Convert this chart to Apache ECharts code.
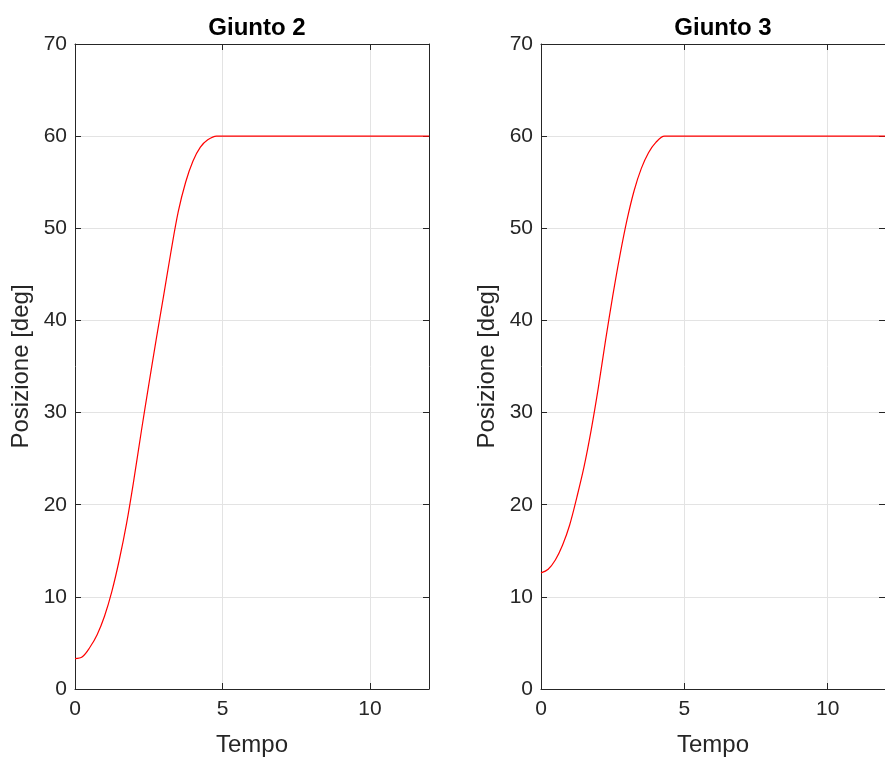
<!DOCTYPE html>
<html>
<head>
<meta charset="utf-8">
<script src="https://cdn.jsdelivr.net/npm/echarts@6/dist/echarts.min.js"></script>
<style>
html, body { margin: 0; padding: 0; background: #fff; }
#chart { width: 885px; height: 763px; }
</style>
</head>
<body>
<div id="chart"></div>
<script>
// tempo [s] e posizione [deg]
const tempo2 = [0, 0.25, 0.5, 0.75, 1.0, 1.25, 1.5, 1.75, 2.0, 2.25, 2.5, 2.75, 3.0, 3.25, 3.5, 3.75, 4.0, 4.25, 4.5, 4.8, 5.2, 12];
const pos2 = [3.3, 3.5, 4.5, 5.9, 7.9, 10.6, 14.0, 18.0, 22.8, 28.0, 33.0, 37.9, 42.6, 47.4, 51.8, 55.0, 57.3, 58.8, 59.6, 60, 60, 60];

const tempo3 = [0, 0.25, 0.5, 0.75, 1.0, 1.25, 1.5, 1.75, 2.0, 2.25, 2.5, 2.75, 3.0, 3.25, 3.5, 3.75, 4.0, 4.31, 4.7, 12];
const pos3 = [12.6, 13.0, 14.0, 15.6, 17.8, 20.8, 24.1, 28.1, 32.7, 37.8, 42.6, 47.0, 50.9, 54.1, 56.5, 58.2, 59.3, 60, 60, 60];

const titoli = ['Giunto 2', 'Giunto 3'];
const xTicks = { min: 0, max: 12, interval: 5 };
const yTicks = { min: 0, max: 70, interval: 10 };

const font = "'Liberation Sans', Arial, Helvetica, sans-serif";
const axisCol = '#262626';
const gridCol = '#e3e3e3';

function toPairs(t, v) {
	return t.map((x, i) => [x, v[i]]);
}

function mainX(idx) {
	return {
		type: 'value', gridIndex: idx, min: xTicks.min, max: xTicks.max, interval: xTicks.interval,
		name: 'Tempo', nameLocation: 'middle', nameGap: 44,
		nameTextStyle: { color: axisCol, fontSize: 24, fontFamily: font },
		axisLine: { show: true, onZero: false, lineStyle: { color: axisCol, width: 1 } },
		axisTick: { show: true, inside: true, length: 6, lineStyle: { color: axisCol } },
		axisLabel: { color: axisCol, fontSize: 21, fontFamily: font, margin: 10, showMaxLabel: false },
		splitLine: { show: true, lineStyle: { color: gridCol, width: 1 } }
	};
}
function topX(idx) {
	return {
		type: 'value', gridIndex: idx, position: 'top', min: xTicks.min, max: xTicks.max, interval: xTicks.interval,
		axisLine: { show: true, onZero: false, lineStyle: { color: axisCol, width: 1 } },
		axisTick: { show: true, inside: true, length: 6, lineStyle: { color: axisCol } },
		axisLabel: { show: false },
		splitLine: { show: false }
	};
}
function mainY(idx) {
	return {
		type: 'value', gridIndex: idx, min: yTicks.min, max: yTicks.max, interval: yTicks.interval,
		name: 'Posizione [deg]', nameLocation: 'middle', nameGap: 42,
		nameTextStyle: { color: axisCol, fontSize: 24, fontFamily: font },
		axisLine: { show: true, onZero: false, lineStyle: { color: axisCol, width: 1 } },
		axisTick: { show: true, inside: true, length: 6, lineStyle: { color: axisCol } },
		axisLabel: { color: axisCol, fontSize: 21, fontFamily: font, margin: 8 },
		splitLine: { show: true, lineStyle: { color: gridCol, width: 1 } }
	};
}
function rightY(idx) {
	return {
		type: 'value', gridIndex: idx, position: 'right', min: yTicks.min, max: yTicks.max, interval: yTicks.interval,
		axisLine: { show: true, onZero: false, lineStyle: { color: axisCol, width: 1 } },
		axisTick: { show: true, inside: true, length: 6, lineStyle: { color: axisCol } },
		axisLabel: { show: false },
		splitLine: { show: false }
	};
}

const chart = echarts.init(document.getElementById('chart'), null, { renderer: 'canvas' });
const option = {
	animation: false,
	backgroundColor: '#ffffff',
	title: [
		{ text: titoli[0], left: 252, top: 11, textAlign: 'center',
		  textStyle: { fontSize: 24, fontWeight: 'bold', color: '#000', fontFamily: font } },
		{ text: titoli[1], left: 718, top: 11, textAlign: 'center',
		  textStyle: { fontSize: 24, fontWeight: 'bold', color: '#000', fontFamily: font } }
	],
	grid: [
		{ left: 75, top: 44, width: 354, height: 645 },
		{ left: 541, top: 44, width: 355, height: 645 }
	],
	xAxis: [mainX(0), mainX(1), topX(0), topX(1)],
	yAxis: [mainY(0), mainY(1), rightY(0), rightY(1)],
	series: [
		{ type: 'line', xAxisIndex: 0, yAxisIndex: 0, data: toPairs(tempo2, pos2),
		  smooth: 0.35, showSymbol: false, lineStyle: { color: '#ff0000', width: 1.2 } },
		{ type: 'line', xAxisIndex: 1, yAxisIndex: 1, data: toPairs(tempo3, pos3),
		  smooth: 0.35, showSymbol: false, lineStyle: { color: '#ff0000', width: 1.2 } }
	]
};
chart.setOption(option);
</script>
</body>
</html>
